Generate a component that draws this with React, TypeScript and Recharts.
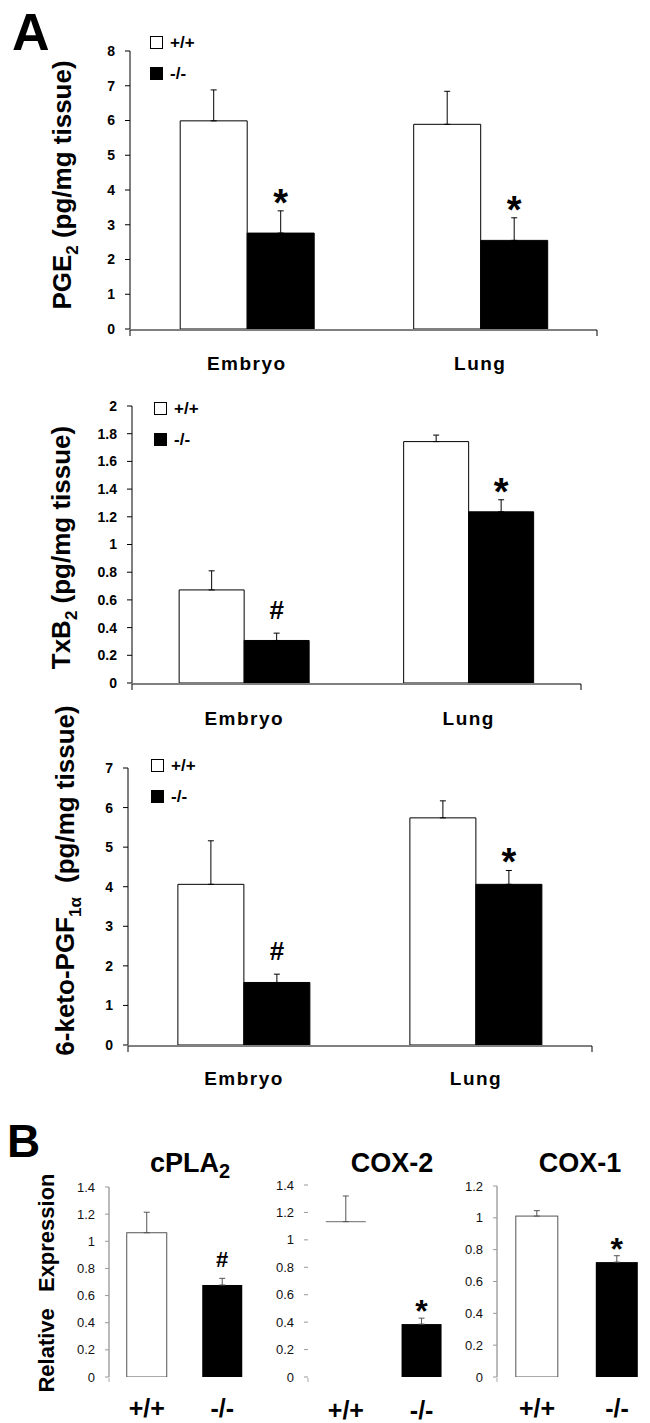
import React from 'react';
import { BarChart, Bar, XAxis, YAxis, ErrorBar, LabelList, Legend, Cell } from 'recharts';

const FONT = "'Liberation Sans', Arial, Helvetica, sans-serif";

// ---------- Panel A data ----------
const tissues = ['Embryo', 'Lung'];
const seriesNames = ['+/+', '-/-'];
const seriesFills = ['#ffffff', '#000000'];

const pge2WT = [5.99, 5.89];
const pge2WTErr = [0.89, 0.95];
const pge2KO = [2.76, 2.55];
const pge2KOErr = [0.64, 0.65];
const pge2Marks = ['*', '*'];
const pge2Ticks = [0, 1, 2, 3, 4, 5, 6, 7, 8];

const txb2WT = [0.672, 1.743];
const txb2WTErr = [0.138, 0.047];
const txb2KO = [0.307, 1.236];
const txb2KOErr = [0.053, 0.087];
const txb2Marks = ['#', '*'];
const txb2Ticks = [0, 0.2, 0.4, 0.6, 0.8, 1, 1.2, 1.4, 1.6, 1.8, 2];

const pgfWT = [4.06, 5.74];
const pgfWTErr = [1.1, 0.43];
const pgfKO = [1.58, 4.06];
const pgfKOErr = [0.21, 0.35];
const pgfMarks = ['#', '*'];
const pgfTicks = [0, 1, 2, 3, 4, 5, 6, 7];

// ---------- Panel B data ----------
const genotypes = ['+/+', '-/-'];
const cpla2Vals = [1.063, 0.678];
const cpla2Errs = [0.151, 0.049];
const cpla2Marks = ['', '#'];
const cox2Vals = [1.133, 0.386];
const cox2Errs = [0.187, 0.043];
const cox2Marks = ['', '*'];
const cox1Vals = [1.011, 0.722];
const cox1Errs = [0.034, 0.04];
const cox1Marks = ['', '*'];
const expr14Ticks = [0, 0.2, 0.4, 0.6, 0.8, 1, 1.2, 1.4];
const expr12Ticks = [0, 0.2, 0.4, 0.6, 0.8, 1, 1.2];
const edgeTicks = [0, 1, 2];

const buildA = (wt: number[], wtErr: number[], ko: number[], koErr: number[], marks: string[]) =>
  tissues.map((t, i) => ({ name: t, wt: wt[i], ko: ko[i], wtErr: [0, wtErr[i]], koErr: [0, koErr[i]], mark: marks[i] }));

const buildB = (vals: number[], errs: number[], marks: string[]) =>
  genotypes.map((g, i) => ({ name: g, v: vals[i], err: [0, errs[i]], mark: marks[i] }));

const makeMark = (vals: number[], errs: number[], big: boolean) => (p: any) => {
  const mark = p.value;
  if (!mark) return null;
  const vb = p.viewBox || p;
  const x = Number(vb.x), y = Number(vb.y), w = Number(vb.width), h = Number(vb.height);
  const idx = p.index;
  const v = vals[idx];
  const e = errs[idx];
  const errTop = y - (e * h) / v;
  const star = mark === '*';
  const by = star ? errTop + (big ? 5 : 4) : errTop - (big ? 14 : 11);
  const fs = star ? (big ? 38 : 32) : big ? 26 : 22;
  return (
    <text x={x + w / 2} y={by} textAnchor="middle" fontFamily={FONT} fontWeight="bold" fontSize={fs} fill="#000">
      {mark}
    </text>
  );
};

const yLabel = (lx: number, dy: number, fs: number, main: string, sub: string, rest: string, restDx = 0) => (p: any) => {
  const vb = (p && p.viewBox) || {};
  const cy = (vb.y ?? 0) + (vb.height ?? 0) / 2 + dy;
  return (
    <text transform={`translate(${lx},${cy}) rotate(-90)`} textAnchor="middle" fontFamily={FONT} fontWeight="bold" fontSize={fs} fill="#000">
      <tspan>{main}</tspan>
      {sub ? (
        <tspan dy={fs * 0.25} fontSize={fs * 0.65}>
          {sub}
        </tspan>
      ) : null}
      <tspan dy={sub ? -fs * 0.25 : 0} dx={restDx}>
        {rest}
      </tspan>
    </text>
  );
};

const legendContent = (p: any) => {
  const payload = p.payload || [];
  return (
    <div style={{ fontFamily: FONT, fontWeight: 'bold', fontSize: 17, color: '#000' }}>
      {payload.map((entry: any, i: number) => {
        const idx = seriesNames.indexOf(entry.value);
        const fill = seriesFills[idx >= 0 ? idx : i];
        return (
          <div key={i} style={{ display: 'flex', alignItems: 'center', height: 31 }}>
            <svg width={13} height={13} style={{ display: 'block' }}>
              <rect x={0.5} y={0.5} width={12} height={12} fill={fill} stroke="#000" />
            </svg>
            <span style={{ marginLeft: 7 }}>{entry.value}</span>
          </div>
        );
      })}
    </div>
  );
};

type ACfg = {
  top: number; height: number; margin: any; yWidth: number; domain: [number, number]; ticks: number[];
  data: any[]; ko: number[]; koErr: number[]; gap: string;
  label: (p: any) => any; legendLeft: number; legendTop: number; xLabelDy: number;
};

function PanelAChart({ c }: { c: ACfg }) {
  return (
    <div style={{ position: 'absolute', left: 0, top: c.top }}>
      <BarChart width={650} height={c.height} data={c.data} margin={c.margin} barCategoryGap={c.gap} barGap={0}>
        <XAxis
          xAxisId="e"
          type="number"
          domain={[0, 2]}
          ticks={edgeTicks}
          allowDataOverflow
          height={1}
          tick={() => <g />}
          tickSize={6}
          tickLine={{ stroke: '#000' }}
          axisLine={{ stroke: '#000' }}
        />
        <XAxis
          xAxisId="c"
          dataKey="name"
          height={1}
          tickSize={0}
          tickMargin={0}
          tickLine={false}
          axisLine={false}
          interval={0}
          tick={(p: any) => (
            <text x={p.x} y={p.y + c.xLabelDy} textAnchor="middle" fontFamily={FONT} fontWeight="bold" fontSize={19} letterSpacing={1.5} fill="#000">
              {p.payload?.value}
            </text>
          )}
        />
        <YAxis
          domain={c.domain}
          ticks={c.ticks}
          interval={0}
          allowDataOverflow
          width={c.yWidth}
          tickSize={5}
          tickMargin={10}
          axisLine={{ stroke: '#000' }}
          tickLine={{ stroke: '#000' }}
          tick={{ fill: '#000', fontSize: 14, fontWeight: 'bold', fontFamily: FONT }}
          label={c.label}
        />
        <Legend
          layout="vertical"
          align="center"
          verticalAlign="middle"
          wrapperStyle={{ left: c.legendLeft, top: c.legendTop, width: 'auto', height: 'auto' }}
          content={legendContent}
        />
        <Bar xAxisId="c" dataKey="wt" name={seriesNames[0]} fill={seriesFills[0]} stroke="#000" strokeWidth={1} isAnimationActive={false}>
          <ErrorBar dataKey="wtErr" direction="y" width={3} stroke="#000" strokeWidth={1} />
        </Bar>
        <Bar xAxisId="c" dataKey="ko" name={seriesNames[1]} fill={seriesFills[1]} stroke="#000" strokeWidth={1} isAnimationActive={false}>
          <ErrorBar dataKey="koErr" direction="y" width={3} stroke="#000" strokeWidth={1} />
          <LabelList dataKey="mark" content={makeMark(c.ko, c.koErr, true)} />
        </Bar>
      </BarChart>
    </div>
  );
}

type BCfg = {
  left: number; width: number; margin: any; yWidth: number; domain: [number, number]; ticks: number[];
  vals: number[]; errs: number[]; marks: string[]; wtStyle: 'box' | 'top'; axisLine: boolean; xLabelDy: number;
  label?: (p: any) => any;
};

function PanelBChart({ c }: { c: BCfg }) {
  const data = buildB(c.vals, c.errs, c.marks);
  const shape = (p: any) => {
    const isWt = (p.payload && p.payload.name === genotypes[0]) || p.index === 0;
    if (isWt) {
      if (c.wtStyle === 'top') {
        return <line x1={p.x} x2={p.x + p.width} y1={p.y} y2={p.y} stroke="#888" strokeWidth={1.2} />;
      }
      return <rect x={p.x} y={p.y} width={p.width} height={p.height} fill="#fff" stroke="#555" strokeWidth={1} />;
    }
    return <rect x={p.x} y={p.y} width={p.width} height={p.height} fill="#000" />;
  };
  return (
    <div style={{ position: 'absolute', left: c.left, top: 1140 }}>
      <BarChart width={c.width} height={283} data={data} margin={c.margin} barCategoryGap="23.5%">
        <XAxis
          xAxisId="e"
          type="number"
          domain={[0, 2]}
          ticks={edgeTicks}
          allowDataOverflow
          height={1}
          tick={() => <g />}
          tickSize={4}
          tickLine={{ stroke: '#aaa' }}
          axisLine={false}
        />
        <XAxis
          xAxisId="c"
          dataKey="name"
          height={1}
          tickSize={0}
          tickMargin={0}
          tickLine={false}
          axisLine={false}
          interval={0}
          tick={(p: any) => (
            <text x={p.x} y={p.y + c.xLabelDy} textAnchor="middle" fontFamily={FONT} fontWeight="bold" fontSize={25} fill="#000">
              {p.payload?.value}
            </text>
          )}
        />
        <YAxis
          domain={c.domain}
          ticks={c.ticks}
          interval={0}
          allowDataOverflow
          width={c.yWidth}
          tickSize={4}
          tickMargin={10}
          axisLine={c.axisLine ? { stroke: '#777' } : false}
          tickLine={{ stroke: '#999' }}
          tick={{ fill: '#111', fontSize: 13, fontFamily: FONT }}
          label={c.label}
        />
        <Bar xAxisId="c" dataKey="v" shape={shape} isAnimationActive={false}>
          {data.map((d, i) => (
            <Cell key={i} fill={i === 0 ? '#fff' : '#000'} />
          ))}
          <ErrorBar dataKey="err" direction="y" width={3} stroke="#555" strokeWidth={1} />
          <LabelList dataKey="mark" content={makeMark(c.vals, c.errs, false)} />
        </Bar>
      </BarChart>
    </div>
  );
}

export default function App() {
  const a1: ACfg = {
    top: 0, height: 400, margin: { top: 51, right: 53, bottom: 69, left: 0 }, yWidth: 130,
    domain: [0, 8], ticks: pge2Ticks, data: buildA(pge2WT, pge2WTErr, pge2KO, pge2KOErr, pge2Marks),
    ko: pge2KO, koErr: pge2KOErr, gap: '21.5%',
    label: yLabel(71, -5, 26, 'PGE', '2', ' (pg/mg tissue)'), legendLeft: 150, legendTop: 27, xLabelDy: 41,
  };
  const a2: ACfg = {
    top: 360, height: 380, margin: { top: 46, right: 69, bottom: 55, left: 0 }, yWidth: 132,
    domain: [0, 2], ticks: txb2Ticks, data: buildA(txb2WT, txb2WTErr, txb2KO, txb2KOErr, txb2Marks),
    ko: txb2KO, koErr: txb2KOErr, gap: '21%',
    label: yLabel(70, 3, 26, 'TxB', '2', ' (pg/mg tissue)'), legendLeft: 154, legendTop: 33, xLabelDy: 42,
  };
  const a3: ACfg = {
    top: 670, height: 430, margin: { top: 98, right: 58, bottom: 53, left: 0 }, yWidth: 128,
    domain: [0, 7], ticks: pgfTicks, data: buildA(pgfWT, pgfWTErr, pgfKO, pgfKOErr, pgfMarks),
    ko: pgfKO, koErr: pgfKOErr, gap: '21.5%',
    label: yLabel(74, -26, 26, '6-keto-PGF', '1α', ' (pg/mg tissue)', 7), legendLeft: 151, legendTop: 80, xLabelDy: 40,
  };
  const b1: BCfg = {
    left: 0, width: 270, margin: { top: 47, right: 10, bottom: 44, left: 0 }, yWidth: 109,
    domain: [0, 1.4], ticks: expr14Ticks, vals: cpla2Vals, errs: cpla2Errs, marks: cpla2Marks,
    wtStyle: 'box', axisLine: true, xLabelDy: 40,
    label: yLabel(54, 1, 22, 'Relative', '', ' Expression', 10),
  };
  const b2: BCfg = {
    left: 270, width: 200, margin: { top: 45, right: 10.5, bottom: 44, left: 0 }, yWidth: 38,
    domain: [0, 1.4], ticks: expr14Ticks, vals: cox2Vals, errs: cox2Errs, marks: cox2Marks,
    wtStyle: 'top', axisLine: false, xLabelDy: 42,
  };
  const b3: BCfg = {
    left: 460, width: 200, margin: { top: 46, right: 3, bottom: 44, left: 0 }, yWidth: 37,
    domain: [0, 1.2], ticks: expr12Ticks, vals: cox1Vals, errs: cox1Errs, marks: cox1Marks,
    wtStyle: 'box', axisLine: true, xLabelDy: 40,
  };

  return (
    <div style={{ position: 'absolute', left: 0, top: 0, width: 650, height: 1423, overflow: 'hidden', background: '#fff', fontFamily: FONT }}>
      <svg width={650} height={1423} style={{ position: 'absolute', left: 0, top: 0 }}>
        <text x={12} y={50} fontFamily={FONT} fontWeight="bold" fontSize={52} fill="#000">A</text>
        <text x={7} y={1157} fontFamily={FONT} fontWeight="bold" fontSize={46} fill="#000">B</text>
        <text x={190} y={1172} textAnchor="middle" fontFamily={FONT} fontWeight="bold" fontSize={27} fill="#000">
          <tspan>cPLA</tspan>
          <tspan dy={6} fontSize={20}>2</tspan>
        </text>
        <text x={392} y={1172} textAnchor="middle" fontFamily={FONT} fontWeight="bold" fontSize={27} fill="#000">COX-2</text>
        <text x={580} y={1172} textAnchor="middle" fontFamily={FONT} fontWeight="bold" fontSize={27} fill="#000">COX-1</text>
      </svg>
      <PanelAChart c={a1} />
      <PanelAChart c={a2} />
      <PanelAChart c={a3} />
      <PanelBChart c={b1} />
      <PanelBChart c={b2} />
      <PanelBChart c={b3} />
    </div>
  );
}
